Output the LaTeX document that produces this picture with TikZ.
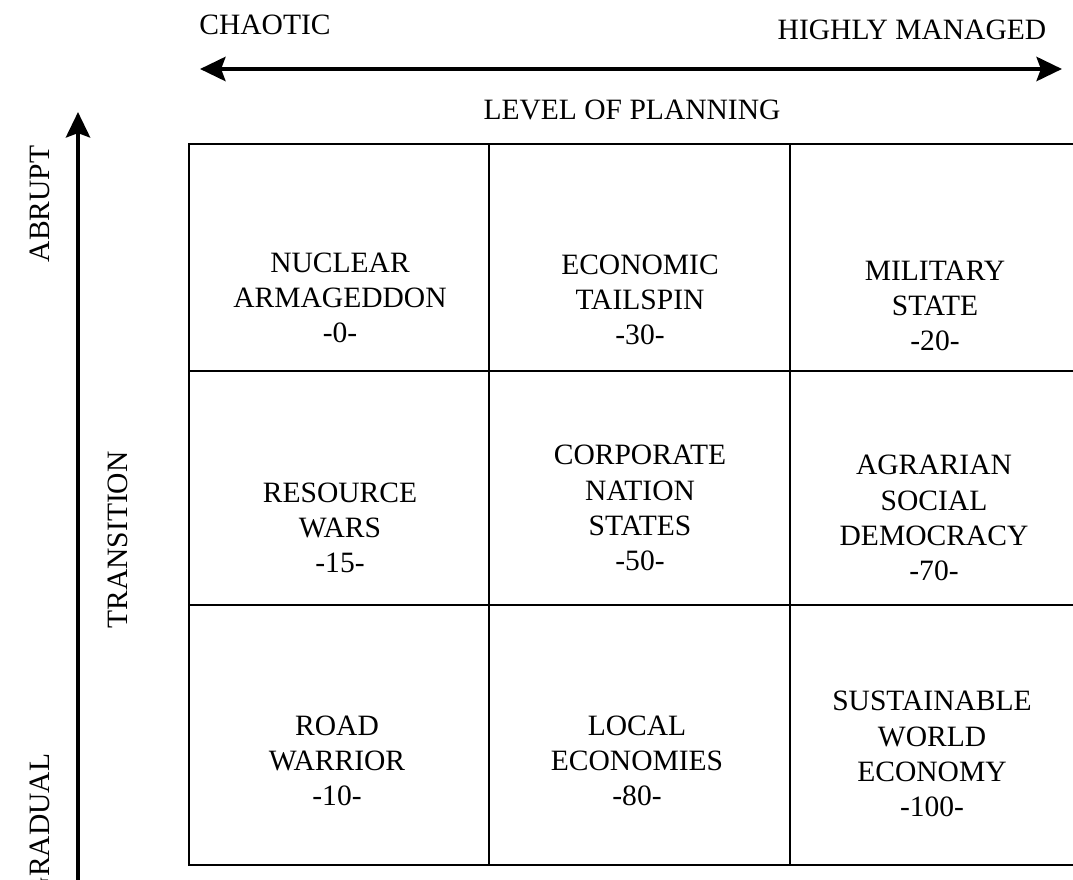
\documentclass[tikz,border=0pt]{standalone}
\usepackage{fontspec}
\setmainfont{Liberation Serif}
\usetikzlibrary{arrows.meta}

\tikzset{
	cell/.style = {align = center},
	axis/.style = {line width = 3.5pt},
	grid line/.style = {line width = 1.2pt, line cap = rect}
}

\begin{document}
\begin{tikzpicture}[x = 0.025cm, y = -0.025cm, font = \fontsize{21}{25}\selectfont,
		>={Stealth[length = 18pt, width = 17pt, inset = 3pt]}]
	\useasboundingbox (0, 0) rectangle (1073, 880);
	\clip (0, 0) rectangle (1073, 880);

	\coordinate (chaoticEnd) at (200, 69);
	\coordinate (managedEnd) at (1062, 69);
	\coordinate (gradualEnd) at (78, 895);
	\coordinate (abruptEnd) at (78, 112);
	\draw[axis, <->] (chaoticEnd) -- (managedEnd);
	\draw[axis, ->] (gradualEnd) -- (abruptEnd);

	\node (chaotic) at (265, 25) {CHAOTIC};
	\node (managed) at (912, 30) {HIGHLY MANAGED};
	\node (planning) at (632, 110) {LEVEL OF PLANNING};
	\node[rotate = 90] (abrupt) at (40, 204) {ABRUPT};
	\node[rotate = 90] (transition) at (118, 540) {TRANSITION};
	\node[rotate = 90] (gradual) at (40, 826) {GRADUAL};

	\foreach \y in {144, 371, 605, 865}
		\draw[grid line] (189, \y) -- (1090, \y);
	\foreach \x in {189, 489, 790}
		\draw[grid line] (\x, 144) -- (\x, 865);

	\node[cell] (nuclear) at (340, 298) {NUCLEAR\\ARMAGEDDON\\-0-};
	\node[cell] (tailspin) at (640, 300) {ECONOMIC\\TAILSPIN\\-30-};
	\node[cell] (military) at (935, 306) {MILITARY\\STATE\\-20-};
	\node[cell] (resource) at (340, 528) {RESOURCE\\WARS\\-15-};
	\node[cell] (corporate) at (640, 508) {CORPORATE\\NATION\\STATES\\-50-};
	\node[cell] (agrarian) at (934, 518) {AGRARIAN\\SOCIAL\\DEMOCRACY\\-70-};
	\node[cell] (road) at (337, 761) {ROAD\\WARRIOR\\-10-};
	\node[cell] (local) at (637, 761) {LOCAL\\ECONOMIES\\-80-};
	\node[cell] (sustainable) at (932, 754) {SUSTAINABLE\\WORLD\\ECONOMY\\-100-};
\end{tikzpicture}
\end{document}
